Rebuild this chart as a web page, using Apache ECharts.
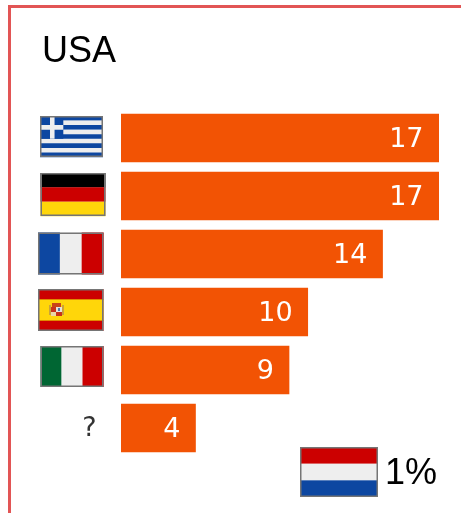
<!DOCTYPE html>
<html>
<head>
<meta charset="utf-8">
<style>
html,body{margin:0;padding:0;background:#fff}
#chart{width:461px;height:513px}
</style>
<script src="https://cdn.jsdelivr.net/npm/echarts@6/dist/echarts.min.js"></script>
</head>
<body>
<div id="chart"></div>
<script>
const categories = ['Greece', 'Germany', 'France', 'Spain', 'Italy', 'Unknown'];
const shares = [17, 17, 14, 10, 9, 4];
const titleText = 'USA';
const otherShareText = '1%';

const BLUE = '#0d47a1', RED = '#cc0000', WHITE = '#eeeeee', YELLOW = '#ffd60a', EDGE = '#757575';

// Every axis flag sits on a transparent tile of one size, so its place in the row is set by dx and dy.
const TILE_W = 70, TILE_H = 56;

function svgUri(w, h, body) {
  const svg = `<svg xmlns="http://www.w3.org/2000/svg" width="${w}" height="${h}" viewBox="0 0 ${w} ${h}">${body}</svg>`;
  return 'data:image/svg+xml;charset=utf-8,' + encodeURIComponent(svg);
}
function framed(w, h, body) {
  return body + `<rect x="0.75" y="0.75" width="${w - 1.5}" height="${h - 1.5}" fill="none" stroke="${EDGE}" stroke-width="1.5"/>`;
}
function tile(dx, dy, w, h, body) {
  return svgUri(TILE_W, TILE_H, `<g transform="translate(${dx} ${dy})">${framed(w, h, body)}</g>`);
}
function hBands(w, h, colors) {
  const s = h / colors.length;
  return colors.map((c, i) => `<rect x="0" y="${i * s}" width="${w}" height="${s + 0.2}" fill="${c}"/>`).join('');
}
function vBands(w, h, colors) {
  const s = w / colors.length;
  return colors.map((c, i) => `<rect x="${i * s}" y="0" width="${s + 0.2}" height="${h}" fill="${c}"/>`).join('');
}
function greekFlag(w, h) {
  const s = h / 9;
  let out = hBands(w, h, [BLUE, WHITE, BLUE, WHITE, BLUE, WHITE, BLUE, WHITE, BLUE]);
  out += `<rect x="0" y="0" width="${w * 0.37}" height="${s * 5}" fill="${BLUE}"/>`;
  out += `<rect x="10" y="0" width="${s}" height="${s * 5}" fill="${WHITE}"/>`;
  out += `<rect x="0" y="${s * 2}" width="${w * 0.37}" height="${s}" fill="${WHITE}"/>`;
  return out;
}
function spanishFlag(w, h) {
  let out = `<rect width="${w}" height="${h}" fill="${RED}"/>`;
  out += `<rect x="0" y="${h * 0.25}" width="${w}" height="${h * 0.5}" fill="${YELLOW}"/>`;
  out += `<rect x="0" y="${h * 0.24}" width="${w}" height="1" fill="#e08a00"/>`;
  out += `<rect x="0" y="${h * 0.74}" width="${w}" height="1" fill="#e08a00"/>`;
  // Simplified coat of arms
  out += `<rect x="11" y="16" width="2" height="10" fill="#c9a33a"/><rect x="24" y="16" width="2" height="10" fill="#c9a33a"/>`;
  out += `<rect x="14" y="14" width="9" height="4" fill="#c8431a"/>`;
  out += `<rect x="13" y="18" width="5" height="5" fill="#c8321a"/><rect x="18" y="18" width="6" height="5" fill="#e7e2d8"/>`;
  out += `<rect x="13" y="23" width="5" height="4" fill="#e9d7a8"/><rect x="18" y="23" width="6" height="4" fill="#c8321a"/>`;
  out += `<rect x="20" y="19" width="2" height="3" fill="#4a78b8"/>`;
  return out;
}

const flagTiles = {
  Greece:  tile(3, 6, 63, 41, greekFlag(63, 41)),
  Germany: tile(3.5, 5, 65, 43, hBands(65, 43, ['#000000', RED, YELLOW])),
  France:  tile(1, 6.5, 65.5, 42, vBands(65.5, 42, [BLUE, WHITE, RED])),
  Spain:   tile(1, 5, 65.5, 42, spanishFlag(65.5, 42)),
  Italy:   tile(3.5, 4, 63, 41, vBands(63, 41, ['#006633', WHITE, RED]))
};
const netherlandsFlag = svgUri(78, 50, framed(78, 50, hBands(78, 50, [RED, WHITE, BLUE])));

const richFlags = {
  unknown: { color: '#333333', fontFamily: 'DejaVu Sans', fontSize: 27, padding: [2, 10.5, 0, 0] }
};
Object.keys(flagTiles).forEach(name => {
  richFlags[name] = {
    width: TILE_W,
    height: TILE_H,
    backgroundColor: { image: flagTiles[name] }
  };
});

const chart = echarts.init(document.getElementById('chart'), null, { renderer: 'canvas' });
chart.setOption({
  animation: false,
  backgroundColor: '#ffffff',
  title: {
    text: titleText,
    left: 42,
    top: 34,
    padding: 0,
    textStyle: { fontFamily: 'Liberation Sans', fontSize: 36, fontWeight: 'normal', color: '#000000' }
  },
  grid: { left: 121, top: 109, width: 318, height: 348, containLabel: false },
  xAxis: { type: 'value', min: 0, max: 17, show: false },
  yAxis: {
    type: 'category',
    inverse: true,
    data: categories,
    axisLine: { show: false },
    axisTick: { show: false },
    axisLabel: {
      margin: 14,
      interval: 0,
      formatter: name => flagTiles[name] ? `{${name}|}` : '{unknown|?}',
      rich: richFlags
    }
  },
  series: [{
    type: 'bar',
    data: shares,
    barWidth: 48.5,
    itemStyle: { color: '#f25304' },
    label: {
      show: true,
      position: 'insideRight',
      distance: 15.5,
      offset: [0, 2],
      color: '#ffffff',
      fontFamily: 'DejaVu Sans',
      fontSize: 27
    }
  }],
  graphic: [
    {
      type: 'polyline',
      silent: true,
      shape: { points: [[9.5, 513], [9.5, 6.5], [461, 6.5]] },
      style: { stroke: '#e25555', lineWidth: 3, fill: null }
    },
    {
      type: 'image',
      silent: true,
      x: 300, y: 447,
      style: { image: netherlandsFlag, width: 78, height: 50 }
    },
    {
      type: 'text',
      silent: true,
      x: 385, y: 456,
      style: { text: otherShareText, fontFamily: 'Liberation Sans', fontSize: 36, fill: '#000000' }
    }
  ]
});
</script>
</body>
</html>
